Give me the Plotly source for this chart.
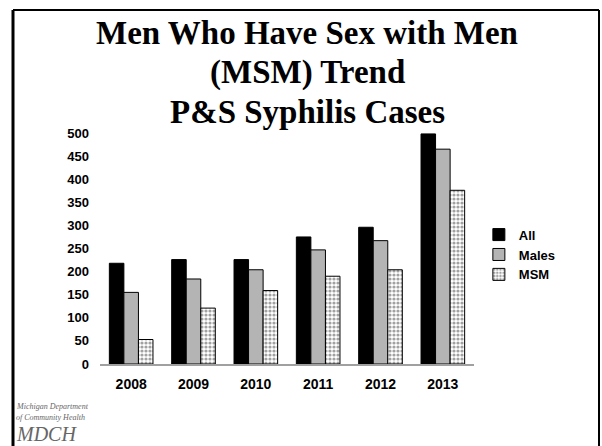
import plotly.graph_objects as go

years = ["2008", "2009", "2010", "2011", "2012", "2013"]
all_cases = [218, 226, 226, 275, 296, 498]
males = [155, 184, 204, 247, 267, 465]
msm = [53, 121, 159, 190, 204, 376]
y_ticks = [0, 50, 100, 150, 200, 250, 300, 350, 400, 450, 500]

fig = go.Figure()
fig.add_trace(go.Bar(name="All", x=years, y=all_cases,
                     marker=dict(color="#000000", line=dict(color="#000000", width=1))))
fig.add_trace(go.Bar(name="Males", x=years, y=males,
                     marker=dict(color="#b4b4b4", line=dict(color="#000000", width=1))))
fig.add_trace(go.Bar(name="MSM", x=years, y=msm,
                     marker=dict(color="#ffffff", line=dict(color="#000000", width=1),
                                 pattern=dict(shape=".", fgcolor="#444444", bgcolor="#ffffff",
                                              size=4, solidity=0.5))))

fig.update_layout(
    width=602, height=446,
    margin=dict(l=100, r=128, t=133, b=82),
    paper_bgcolor="white", plot_bgcolor="white",
    barmode="group", bargap=0.3, bargroupgap=0,
    showlegend=True,
    legend=dict(x=1.013, y=0.625, xanchor="left", yanchor="top",
                font=dict(family="Arial, Liberation Sans", size=13, color="black", weight="bold"),
                itemwidth=30, tracegroupgap=0, bgcolor="rgba(0,0,0,0)"),
    font=dict(family="Arial, Liberation Sans", color="black"),
)
fig.update_xaxes(showgrid=False, showline=True, linecolor="#a0a0a0", linewidth=2,
                 ticks="", tickfont=dict(size=14, weight="bold"), ticklabelstandoff=6)
fig.update_yaxes(range=[0, 500], tickvals=y_ticks, showgrid=False, zeroline=False,
                 showline=False, ticks="", tickfont=dict(size=13, weight="bold"),
                 ticklabelstandoff=10)

title_lines = ["Men Who Have Sex with Men", "(MSM) Trend", "P&S Syphilis Cases"]
title_y = [33, 73, 112]
for txt, yy in zip(title_lines, title_y):
    fig.add_annotation(text=txt, xref="paper", yref="paper", x=(307 - 100) / 374,
                       y=(364 - yy) / 231, xanchor="center", yanchor="middle",
                       showarrow=False,
                       font=dict(family="Liberation Serif, Times New Roman", size=33,
                                 color="black", weight="bold"))

# border frame
fig.add_shape(type="line", xref="paper", yref="paper",
              x0=(13 - 100) / 374, x1=(13 - 100) / 374, y0=(364 - 10) / 231, y1=(364 - 450) / 231,
              line=dict(color="black", width=3))
fig.add_shape(type="line", xref="paper", yref="paper",
              x0=(13 - 100) / 374, x1=(599 - 100) / 374, y0=(364 - 10) / 231, y1=(364 - 10) / 231,
              line=dict(color="black", width=2))
fig.add_shape(type="line", xref="paper", yref="paper",
              x0=(599 - 100) / 374, x1=(599 - 100) / 374, y0=(364 - 10) / 231, y1=(364 - 450) / 231,
              line=dict(color="black", width=2))

# logo text
logo = [("Michigan Department", 406, 8), ("of Community Health", 417, 8), ("MDCH", 434, 20)]
for txt, yy, sz in logo:
    fig.add_annotation(text="<i>" + txt + "</i>", xref="paper", yref="paper",
                       x=(14 - 100) / 374, y=(364 - yy) / 231, xanchor="left", yanchor="middle",
                       showarrow=False,
                       font=dict(family="Liberation Serif, Times New Roman", size=sz, color="#666666"))

fig.write_html("out.html", config={"displayModeBar": False},
               post_script="document.body.style.margin='0px';document.body.style.overflow='hidden';")
